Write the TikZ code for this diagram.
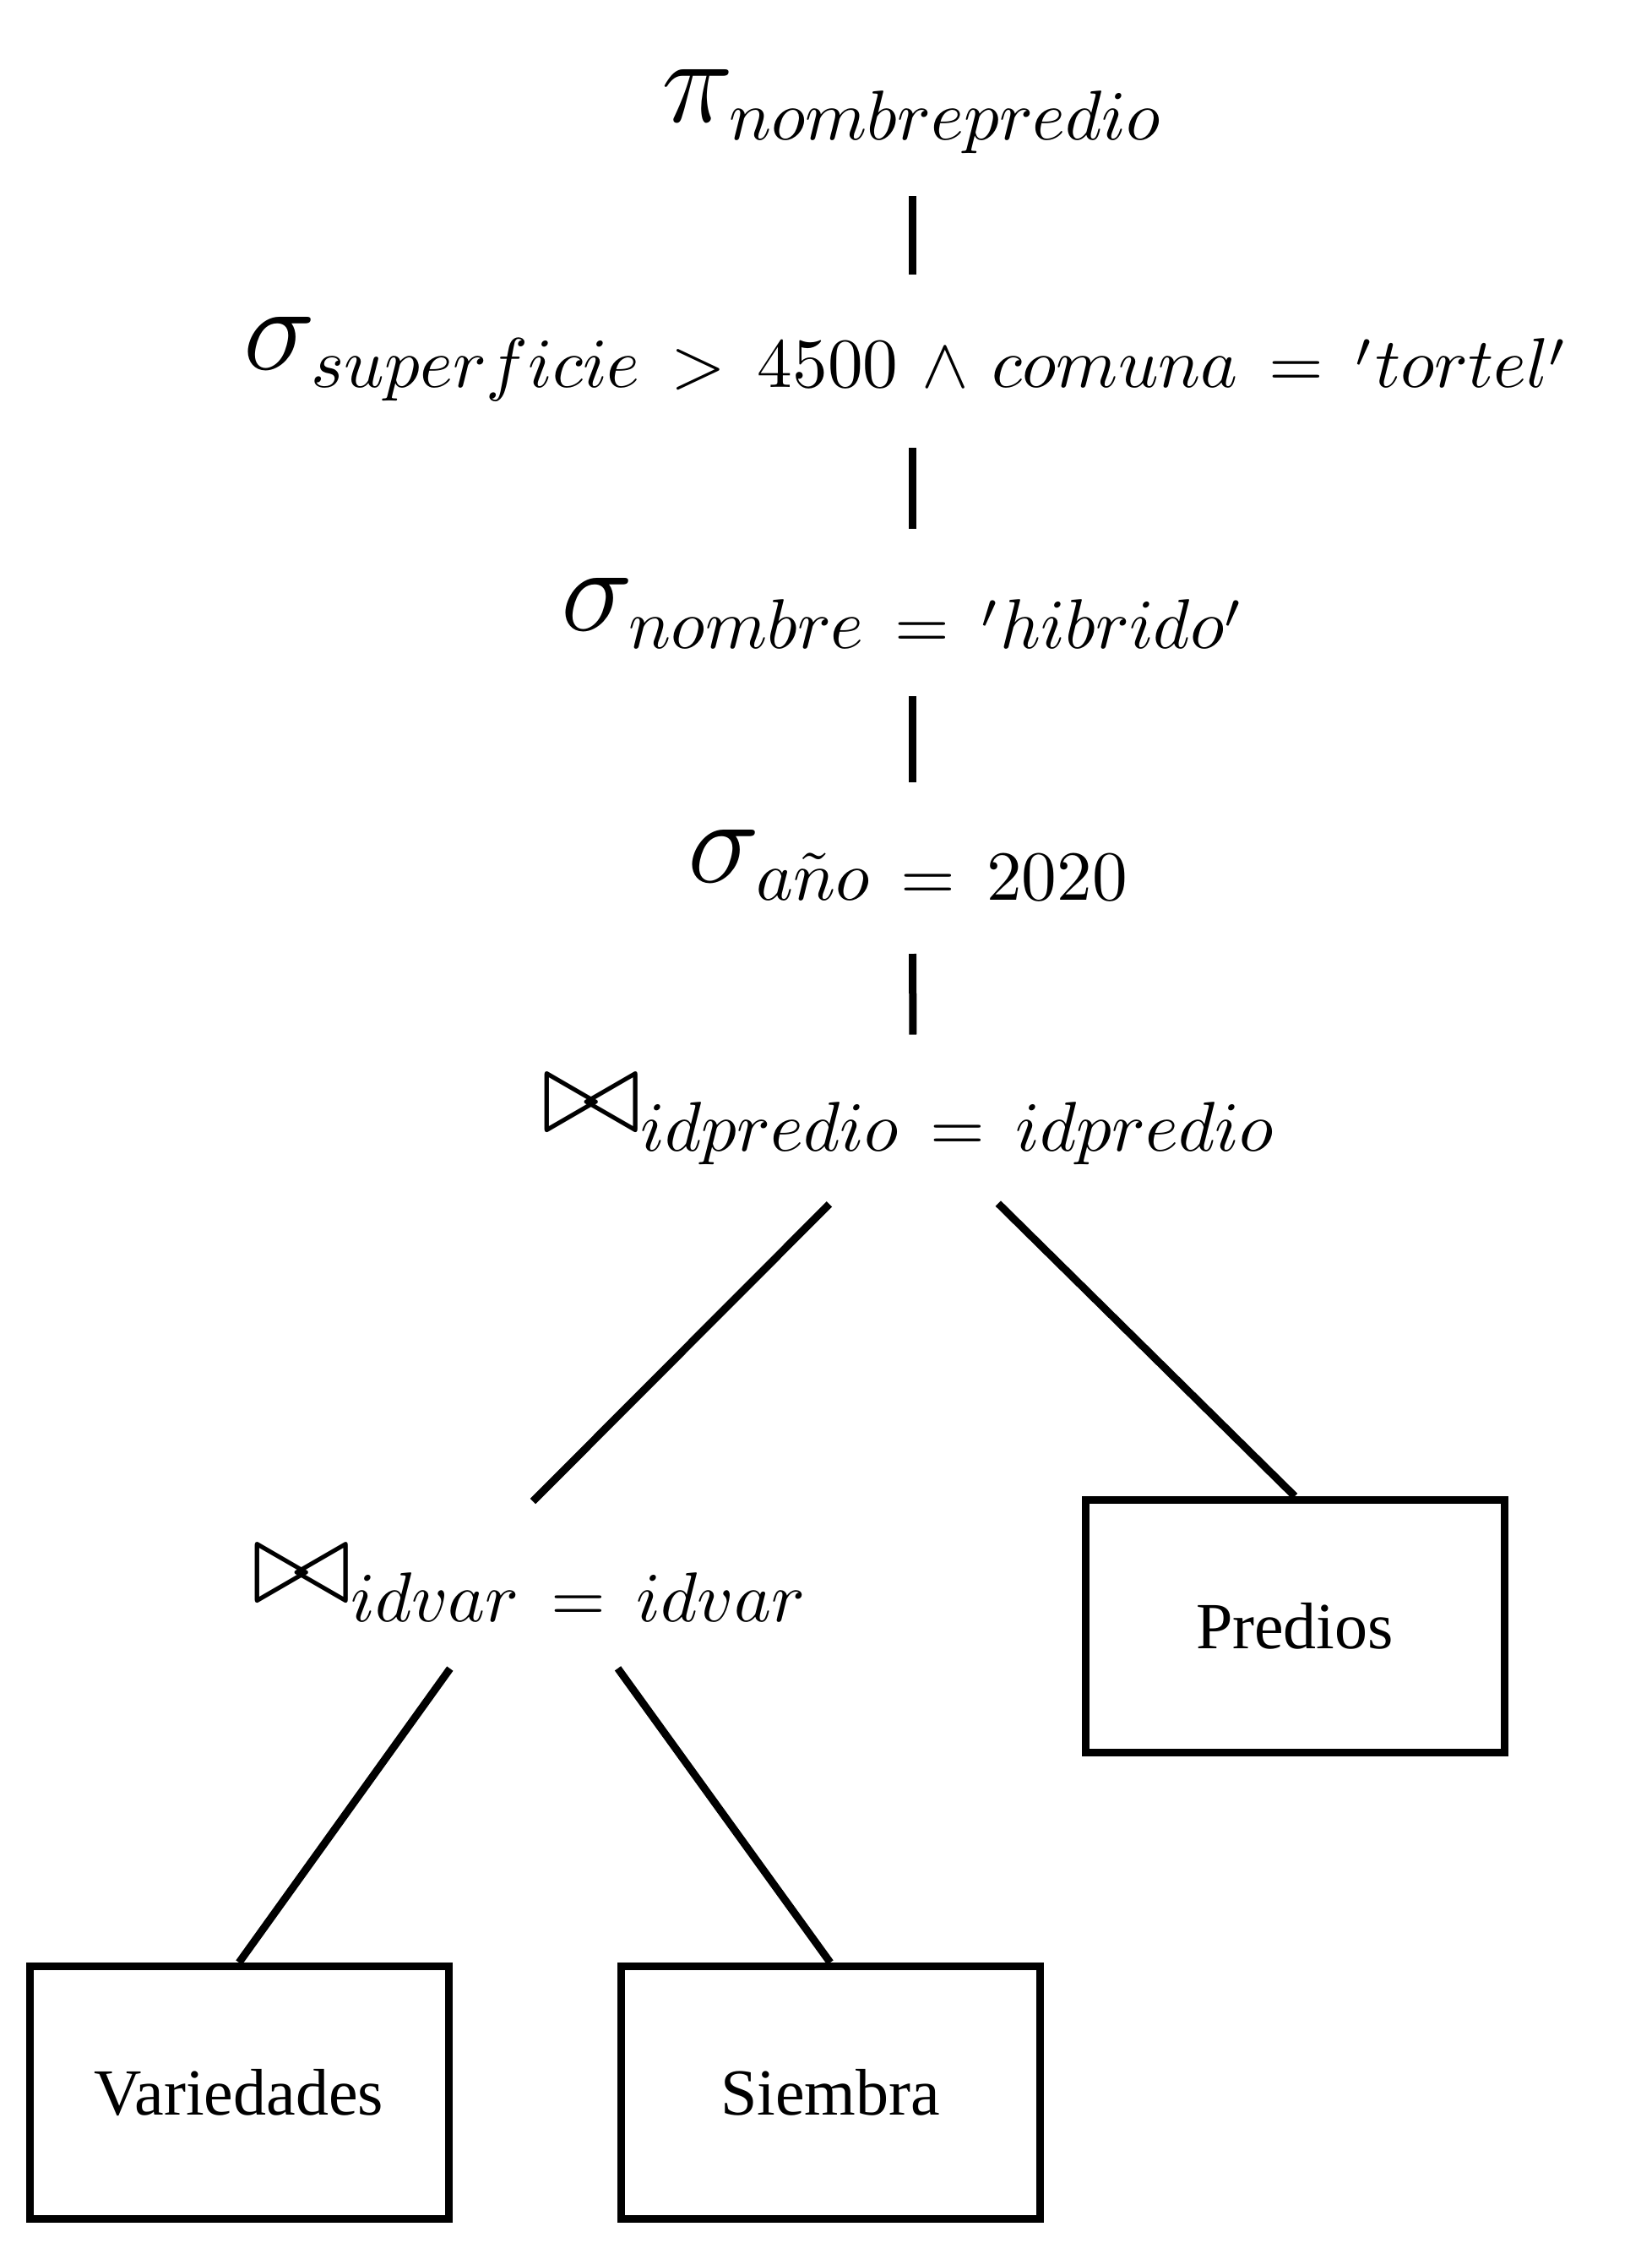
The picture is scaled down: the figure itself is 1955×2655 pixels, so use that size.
\documentclass[tikz,border=0pt]{standalone}
\usepackage{fontspec}
\newfontfamily\boxfont{Liberation Serif}
\DeclareMathSizes{17.28}{17.28}{10}{7}
\newcommand\rsp{\mskip 8mu}
\newcommand\bsp{\mskip 6mu}
\tikzset{
  op/.style={inner sep=0pt, anchor=center, font=\fontsize{17.28}{20}\selectfont, scale=8.33},
  rel/.style={draw, line width=9pt, minimum width=496pt, minimum height=299pt,
              inner sep=0pt, font=\boxfont\fontsize{78}{90}\selectfont},
  edge/.style={line width=9pt}
}
\begin{document}
\begin{tikzpicture}[x=1pt,y=-1pt]
\useasboundingbox (0,0) rectangle (1955,2655);
% operator nodes
\node[op] (pi) at (1081,132) {$\pi_{nombrepredio}$};
\node[op] (s1) at (1075,425) {$\sigma_{superficie\rsp>\rsp4500\bsp\wedge\bsp comuna\rsp=\rsp'tortel'}$};
\node[op] (s2) at (1071,726) {$\sigma_{nombre\rsp=\rsp'hibrido'}$};
\node[op] (s3) at (1077,1024) {$\sigma_{a\tilde{n}o\rsp=\rsp2020}$};
\node[op] (j1) at (1077,1326) {$\bowtie_{idpredio\rsp=\rsp idpredio}$};
\node[op] (j2) at (628,1875) {$\bowtie_{idvar\rsp=\rsp idvar}$};
% relation nodes
\node[rel] (pred) at (1533,1925) {Predios};
\node[rel] (vari) at (283,2477) {Variedades};
\node[rel] (siem) at (983,2477) {Siembra};
% connector hubs
\coordinate (pic) at (1080,127);
\coordinate (s1c) at (1080,428);
\coordinate (s2c) at (1080,731);
\coordinate (s3c) at (1080,1032);
\coordinate (j1c) at (1081.5,1325.5);
\coordinate (j2in) at (631,1777);
\coordinate (j2c) at (632,1837);
% connectors
\draw[edge, shorten <=105pt, shorten >=103pt] (pic) -- (s1c);
\draw[edge, shorten <=102pt, shorten >=105pt] (s1c) -- (s2c);
\draw[edge, shorten <=93pt, shorten >=106pt] (s2c) -- (s3c);
\draw[edge, shorten <=97pt, shorten >=101pt] (s3c) -- (j1c);
\draw[edge, shorten <=141pt] (j1c) -- (j2in);
\draw[edge, shorten <=141pt] (j1c) -- (pred.north);
\draw[edge, shorten <=170pt] (j2c) -- (vari.north);
\draw[edge, shorten <=170pt] (j2c) -- (siem.north);
\end{tikzpicture}
\end{document}
